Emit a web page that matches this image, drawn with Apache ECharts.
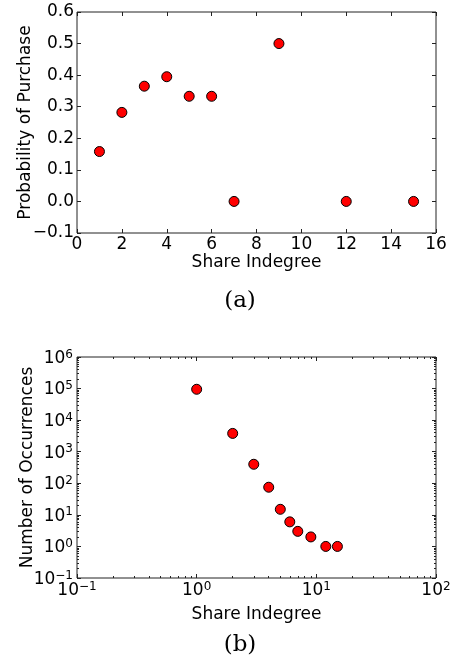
<!DOCTYPE html>
<html><head><meta charset="utf-8">
<script src="https://cdn.jsdelivr.net/npm/echarts@6/dist/echarts.min.js"></script>
<style>html,body{margin:0;padding:0;background:#fff}#c{width:452px;height:658px}</style>
</head><body><div id="c"></div>
<script>
// ---- data (a) ----
const indegreeA = [1, 2, 3, 4, 5, 6, 7, 9, 12, 15];
const probPurchase = [0.158, 0.282, 0.365, 0.395, 0.333, 0.333, 0.0, 0.5, 0.0, 0.0];
// ---- data (b) ----
const indegreeB = [1, 2, 3, 4, 5, 6, 7, 9, 12, 15];
const occurrences = [95000, 3800, 400, 75, 15, 6, 3, 2, 1, 1];
// ---- axes ----
const xRangeA = [0, 16], xStepA = 2;
const yRangeA = [-0.1, 0.6], yStepA = 0.1;
const xDecadesB = [0.1, 1, 10, 100];
const yDecadesB = [0.1, 1, 10, 100, 1000, 10000, 100000, 1000000];
const captions = ['(a)', '(b)'];
const xTitle = 'Share Indegree';
const yTitleA = 'Probability of Purchase';
const yTitleB = 'Number of Occurrences';

function minorsOf(decades) {
  const out = [];
  for (let i = 0; i < decades.length - 1; i++)
    for (let m = 2; m <= 9; m++) out.push(+(decades[i] * m).toPrecision(6));
  return out;
}
const xMinorB = minorsOf(xDecadesB);
const yMinorB = minorsOf(yDecadesB);

const FONT = 'DejaVu Sans';
const INK = '#222';
const MINUS = '\u2212';

function fmtLin(v) { return (Math.abs(v) < 1e-9 ? 0 : v).toFixed(1).replace('-', MINUS); }
function fmtLog(v) {
  const e = Math.round(Math.log10(v));
  return '{b|10}{s|' + String(e).replace('-', MINUS) + '}';
}
const richLog = {
  b: { fontFamily: FONT, fontSize: 17, lineHeight: 17, color: '#000', padding: [3, 0, 0, 0] },
  s: { fontFamily: FONT, fontSize: 12, lineHeight: 12, color: '#000', verticalAlign: 'top' }
};
const nameStyle = { fontFamily: FONT, fontSize: 17, color: '#000' };
const tickMajor = { show: true, inside: true, length: 4, lineStyle: { color: INK, width: 1 } };
const tickMinor = { show: true, inside: true, length: 2, lineStyle: { color: INK, width: 1 } };
const noLine = { show: false, onZero: false };
const noSplit = { show: false };

function linAxis(gridIndex, pos, range, step, labels, extra) {
  return Object.assign({
    type: 'value', gridIndex, position: pos, min: range[0], max: range[1], interval: step,
    axisLine: noLine, splitLine: noSplit, axisTick: tickMajor,
    axisLabel: labels ? { show: true, margin: 3, fontFamily: FONT, fontSize: 17, color: '#000', formatter: labels }
                      : { show: false }
  }, extra || {});
}
function logAxis(gridIndex, pos, decades, ticks, tickStyle, labels, extra) {
  return Object.assign({
    type: 'log', logBase: 10, gridIndex, position: pos,
    min: decades[0], max: decades[decades.length - 1],
    axisLine: noLine, splitLine: noSplit,
    axisTick: Object.assign({}, tickStyle, { customValues: ticks }),
    axisLabel: labels ? Object.assign({ show: true, formatter: fmtLog, rich: richLog, customValues: decades }, labels)
                      : { show: false }
  }, extra || {});
}
function titled(name, gap) {
  return { name: name, nameLocation: 'middle', nameGap: gap, nameMoveOverlap: false, nameTextStyle: nameStyle };
}

const chart = echarts.init(document.getElementById('c'), null, { renderer: 'canvas' });
chart.setOption({
  animation: false,
  backgroundColor: '#fff',
  grid: [
    { left: 77, right: 16, top: 12, height: 221, show: true, borderColor: INK, borderWidth: 1, backgroundColor: 'transparent', containLabel: false, outerBoundsMode: 'none' },
    { left: 77, right: 16, top: 357, height: 221, show: true, borderColor: INK, borderWidth: 1, backgroundColor: 'transparent', containLabel: false, outerBoundsMode: 'none' }
  ],
  xAxis: [
    linAxis(0, 'bottom', xRangeA, xStepA, v => String(v), titled(xTitle, 21)),
    linAxis(0, 'top', xRangeA, xStepA, null),
    logAxis(1, 'bottom', xDecadesB, xDecadesB, tickMajor, { margin: 3 }, titled(xTitle, 28)),
    logAxis(1, 'bottom', xDecadesB, xMinorB, tickMinor, null),
    logAxis(1, 'top', xDecadesB, xDecadesB, tickMajor, null),
    logAxis(1, 'top', xDecadesB, xMinorB, tickMinor, null)
  ],
  yAxis: [
    linAxis(0, 'left', yRangeA, yStepA, fmtLin, titled(yTitleA, 43)),
    linAxis(0, 'right', yRangeA, yStepA, null),
    logAxis(1, 'left', yDecadesB, yDecadesB, tickMajor, { margin: 4 }, titled(yTitleB, 41)),
    logAxis(1, 'left', yDecadesB, yMinorB, tickMinor, null),
    logAxis(1, 'right', yDecadesB, yDecadesB, tickMajor, null),
    logAxis(1, 'right', yDecadesB, yMinorB, tickMinor, null)
  ],
  series: [
    { type: 'scatter', xAxisIndex: 0, yAxisIndex: 0, symbolSize: 10,
      itemStyle: { color: '#ff0000', borderColor: '#000', borderWidth: 1, opacity: 1 },
      data: indegreeA.map((x, i) => [x, probPurchase[i]]) },
    { type: 'scatter', xAxisIndex: 2, yAxisIndex: 2, symbolSize: 10,
      itemStyle: { color: '#ff0000', borderColor: '#000', borderWidth: 1, opacity: 1 },
      data: indegreeB.map((x, i) => [x, occurrences[i]]) }
  ],
  graphic: [
    { type: 'text', x: 240, y: 301, style: { text: captions[0], fontFamily: 'DejaVu Serif', fontSize: 23, fill: '#000', align: 'center', verticalAlign: 'middle' } },
    { type: 'text', x: 240, y: 645, style: { text: captions[1], fontFamily: 'DejaVu Serif', fontSize: 23, fill: '#000', align: 'center', verticalAlign: 'middle' } }
  ]
});
</script>
</body></html>
